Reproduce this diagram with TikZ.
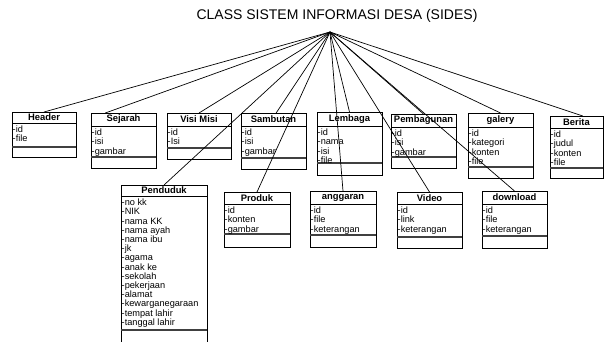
\documentclass[tikz,border=0pt]{standalone}
\usepackage{fontspec}
\setmainfont{Liberation Sans}
\usetikzlibrary{calc}
\tikzset{
  classbox/.style={draw=black, line width=0.8pt, inner sep=0pt, outer sep=0pt},
  sepline/.style={draw=black, line width=0.8pt},
  attrsep/.style={draw=black!75, line width=1.4pt},
  classtitle/.style={font=\bfseries\fontsize{9.4}{10}\selectfont, inner sep=0pt},
  classattr/.style={font=\fontsize{9.2}{9.2}\selectfont, anchor=north west, align=left, inner sep=0pt},
  conn/.style={draw=black, line width=0.7pt},
  maintitle/.style={font=\fontsize{14}{16}\selectfont, inner sep=0pt}
}
\newcommand\umlclass[9]{%
  \node[classbox, anchor=north west, minimum width={(#4-#2)*1pt}, minimum height={(#7-#3)*1pt}] (#1) at (#2,#3) {};
  \draw[sepline] (#2,#5) -- (#4,#5);
  \draw[attrsep] (#2,#6) -- (#4,#6);
  \node[classtitle] (#1-t) at ({(#2+#4)/2},{(#3+#5)/2}) {#8};
  \node[classattr] (#1-a) at ({#2+0.5},{#5+2.8}) {#9};
}
\begin{document}
\begin{tikzpicture}[x=1pt,y=-1pt]
\clip (0,0) rectangle (604,341);
\fill[white] (0,0) rectangle (604,341);
\node[maintitle] (title) at (337,16) {CLASS SISTEM INFORMASI DESA (SIDES)};
\coordinate (apex) at (330,32);

\umlclass{header}{12}{112}{76}{123}{147}{157}{Header}{-id\\-file}
\umlclass{sejarah}{91}{113}{156}{126}{157}{168}{Sejarah}{-id\\-isi\\-gambar}
\umlclass{visi}{167}{113}{231}{126}{148}{159}{Visi Misi}{-id\\-Isi}
\umlclass{sambutan}{241}{113}{306}{126}{158}{169}{Sambutan}{-id\\-isi\\-gambar}
\umlclass{lembaga}{317}{112}{382}{126}{163}{175}{Lembaga}{-id\\-nama\\-isi\\-file}
\umlclass{pembagunan}{391}{114}{456}{127}{157}{168}{Pembagunan}{-id\\-isi\\-gambar}
\umlclass{galery}{468}{113}{533}{127}{167}{178}{galery}{-id\\-kategori\\-konten\\-file}
\umlclass{berita}{550}{116}{603}{128}{168}{178}{Berita}{-id\\-judul\\-konten\\-file}

\umlclass{penduduk}{121}{185}{207}{196}{330}{352}{Penduduk}{-no kk\\-NIK\\-nama KK\\-nama ayah\\-nama ibu\\-jk\\-agama\\-anak ke\\-sekolah\\-pekerjaan\\-alamat\\-kewarganegaraan\\-tempat lahir\\-tanggal lahir}
\umlclass{produk}{224}{192}{290}{204}{234}{247}{Produk}{-id\\-konten\\-gambar}
\umlclass{anggaran}{310}{191}{376}{204}{235}{247}{anggaran}{-id\\-file\\-keterangan}
\umlclass{video}{397}{192}{462}{204}{237}{248}{Video}{-id\\-link\\-keterangan}
\umlclass{download}{482}{191}{547}{204}{236}{248}{download}{-id\\-file\\-keterangan}

\draw[conn] (apex) -- (header.north);
\draw[conn] (apex) -- ($(sejarah.north west)!0.22!(sejarah.north east)$);
\draw[conn] (apex) -- (visi.north);
\draw[conn] (apex) -- (penduduk.north);
\draw[conn] (apex) -- ($(sambutan.north west)!0.54!(sambutan.north east)$);
\draw[conn] (apex) -- (produk.north);
\draw[conn] (apex) -- (lembaga.north);
\draw[conn] (apex) -- (anggaran.north);
\draw[conn] (apex) -- (pembagunan.north);
\draw[conn] (apex) -- (video.north);
\draw[conn] (apex) -- (download.north);
\draw[conn] (apex) -- (galery.north);
\draw[conn] (apex) -- ($(berita.north west)!0.62!(berita.north east)$);
\end{tikzpicture}
\end{document}
